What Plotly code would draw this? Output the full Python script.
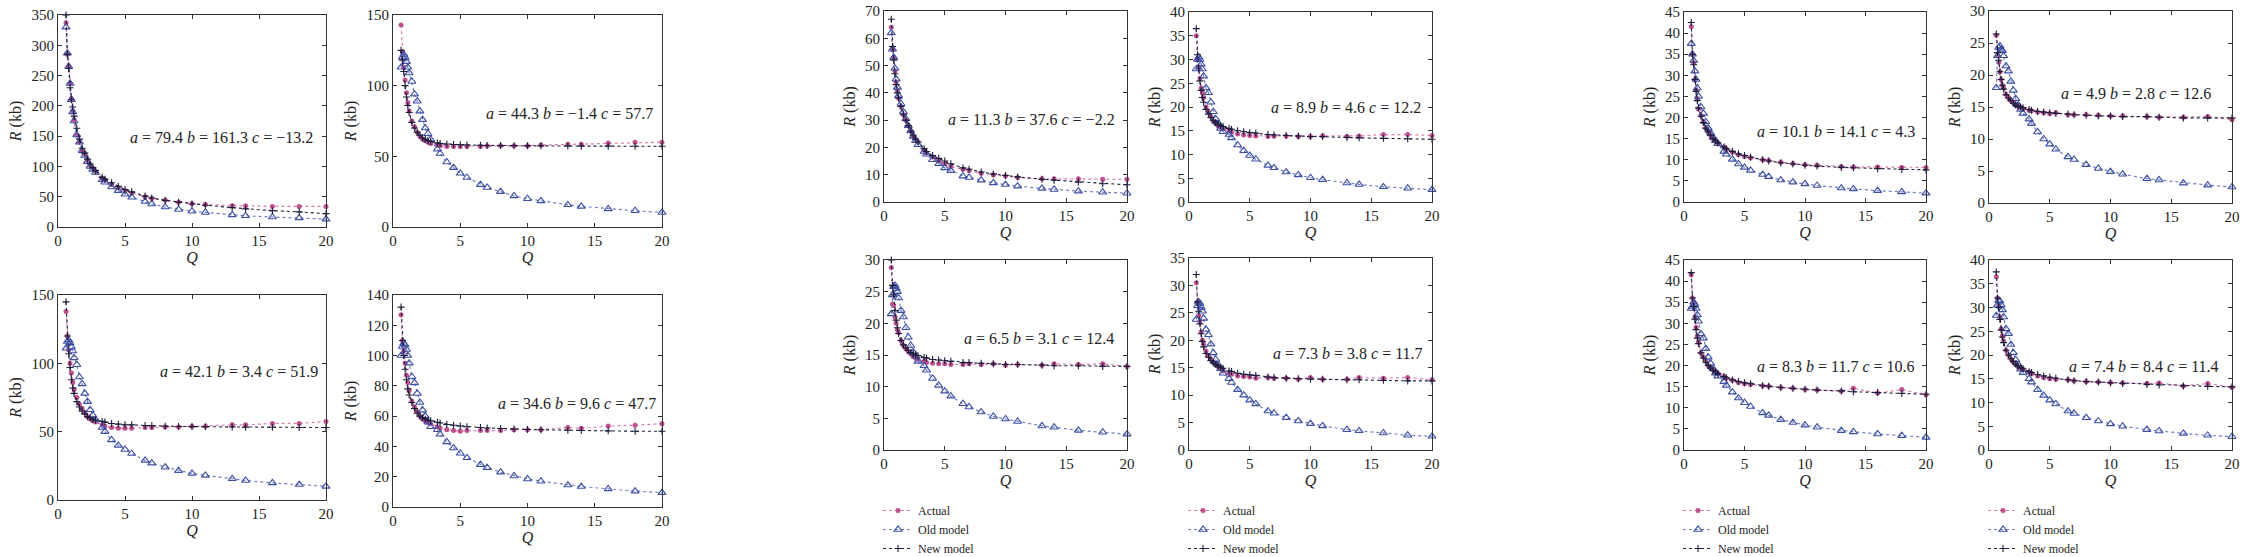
import plotly.graph_objects as go

# ---------------- data ----------------
Q = [0.6, 0.7, 0.8, 0.9, 1.0, 1.1, 1.2, 1.4, 1.6, 1.8, 2.0, 2.2, 2.4, 2.6, 2.8, 3.3,
     3.5, 4.0, 4.5, 5.0, 5.5, 6.5, 7.0, 8.0, 9.0, 10, 11, 13, 14, 16, 18, 20]

actual_1 = [337, 285, 265, 237, 212, 192, 177, 152, 140, 125, 120, 110, 102, 97, 92, 80, 77, 70, 65, 60, 56, 50, 47, 44, 41, 39, 37, 35, 35, 34, 34, 34]
new_1 = [350, 285, 262, 230, 210, 198, 183, 163, 145, 130, 122, 112, 104, 98, 93, 82, 79, 73, 67, 62, 58, 51, 48, 44, 41, 38, 36, 32, 30, 27, 25, 22]
old_1 = [330, 287, 265, 237, 210, 190, 175, 152, 140, 126, 118, 108, 100, 95, 90, 78, 74, 66, 60, 54, 49, 42, 38, 33, 29, 26, 24, 20, 18.5, 16.5, 15, 13]

actual_2 = [143, 124, 113, 104, 95, 88, 82, 75, 71, 67, 64, 62, 61, 60, 59, 58, 57.5, 57, 57, 57, 57, 57, 57.5, 57.5, 57.5, 57.5, 58, 58.5, 58.5, 59.5, 60, 60]
new_2 = [125, 118, 110, 100, 92, 86, 81, 74, 70, 67, 65, 63, 62, 61, 60.5, 59.5, 59, 58.7, 58.4, 58.2, 58, 57.8, 57.7, 57.6, 57.5, 57.4, 57.4, 57.3, 57.2, 57.2, 57.1, 57.1]
old_2 = [113, 120, 122, 120, 117, 113, 109, 103, 94, 89, 82, 76, 70, 66, 62, 55, 52, 46, 42, 38, 35, 30, 28, 25, 22, 20, 18.5, 15.7, 14.6, 12.8, 11.5, 10.3]

actual_3 = [138, 120, 110, 100, 93, 86, 81, 75, 70, 67, 64, 61, 59.5, 58, 57, 55, 54, 53, 52.5, 52.5, 52.5, 53, 53, 53.5, 53.5, 54, 54, 55, 55, 56, 56, 57.5]
new_3 = [145, 120, 107, 97, 88, 82, 78, 72, 68, 65, 63, 61, 60, 59, 58.5, 57.5, 57, 56, 55.5, 55, 55, 54.5, 54.3, 54, 53.8, 53.7, 53.6, 53.4, 53.3, 53.2, 53, 53]
old_3 = [111, 116, 117, 115, 112, 109, 104, 99, 90, 85, 78, 72, 66, 62, 59, 53, 50, 44, 40, 37, 34, 29, 27, 24, 21.5, 19.5, 18, 15.5, 14.3, 12.5, 11.3, 10]

actual_4 = [127, 110, 103, 95, 87, 82, 77, 70, 66, 63, 60, 58, 57, 56, 55, 53, 52, 51, 50.5, 50, 50.5, 50.5, 50.5, 50.5, 51, 51, 51, 52.5, 52, 53.5, 54, 55]
new_4 = [132, 110, 100, 91, 84, 78, 74, 69, 65, 62, 60, 59, 58, 57.5, 57, 56, 55.5, 54.5, 54, 53.5, 53, 52.5, 52.2, 51.8, 51.5, 51.2, 51, 50.7, 50.5, 50.3, 50, 50]
old_4 = [100, 106, 108, 107, 104, 100, 95, 86, 82, 75, 69, 64, 60, 56, 53, 51, 48, 43, 39, 35.5, 32.5, 28, 26, 23, 20.5, 18.5, 17, 14.5, 13.5, 12, 10.5, 9.5]

actual_5 = [64, 56, 53, 48, 44, 41, 38, 35, 32, 30, 28, 26, 24, 23, 22, 19, 18, 16.5, 15, 14, 13, 12, 11.5, 10.5, 10, 9.5, 9, 8.5, 8.5, 8.5, 8.3, 8.3]
new_5 = [67, 57, 52, 47, 43, 40, 38, 35, 32, 30, 28, 26, 24.5, 23, 22, 19.5, 18.5, 17, 16, 15, 14, 12.5, 12, 11, 10.3, 9.7, 9.2, 8.3, 8, 7.3, 6.7, 6.3]
old_5 = [62, 56, 53, 49, 45, 42, 39, 36, 33, 30.5, 28, 26, 24, 22.5, 21, 18.5, 17.5, 15.5, 14, 12.5, 11.5, 9.5, 9, 8, 7, 6.4, 5.8, 5, 4.6, 4, 3.6, 3.2]

actual_6 = [35, 30, 28.5, 26, 24, 23, 22, 20, 19, 18, 17, 16.5, 16, 15.8, 15.5, 15, 14.7, 14.3, 14.1, 14, 13.9, 13.8, 13.9, 13.9, 13.8, 13.8, 13.9, 13.8, 13.9, 14.2, 14.2, 14]
new_6 = [36.5, 31, 28, 25.5, 23.5, 22, 21, 19.5, 18.5, 17.8, 17.2, 16.7, 16.4, 16.1, 15.9, 15.5, 15.3, 15, 14.8, 14.6, 14.5, 14.2, 14.1, 14, 13.9, 13.8, 13.8, 13.6, 13.5, 13.4, 13.3, 13.2]
old_6 = [28, 30, 30.5, 30, 29, 28, 26.5, 24, 23, 21, 19, 17.5, 16.5, 15.5, 14.8, 14.2, 13.5, 12, 10.8, 9.8, 9, 7.7, 7.2, 6.3, 5.7, 5.1, 4.7, 4, 3.7, 3.2, 2.9, 2.6]

actual_7 = [28.8, 23, 22.8, 21, 20, 19, 18.5, 17.3, 16.5, 16, 15.5, 15.2, 14.8, 14.5, 14.3, 14, 13.8, 13.7, 13.6, 13.6, 13.5, 13.5, 13.6, 13.5, 13.6, 13.4, 13.5, 13.4, 13.6, 13.5, 13.6, 13.2]
new_7 = [30, 26, 24.5, 22, 20.5, 19.3, 18.4, 17.3, 16.6, 16.1, 15.7, 15.4, 15.2, 15, 14.9, 14.6, 14.5, 14.3, 14.2, 14.1, 14, 13.8, 13.8, 13.7, 13.6, 13.5, 13.5, 13.4, 13.3, 13.3, 13.2, 13.2]
old_7 = [21.5, 24.5, 25.8, 26, 25.5, 25, 24, 22, 21, 19.3, 17.8, 16.5, 15.5, 14.8, 14, 13.3, 12.6, 11.3, 10.2, 9.3, 8.5, 7.3, 6.8, 6, 5.3, 4.9, 4.5, 3.8, 3.6, 3.1, 2.8, 2.5]

actual_8 = [30.5, 27, 24.5, 23.5, 21.5, 20, 19.3, 18, 17.2, 16.6, 16, 15.6, 15.2, 14.8, 14.4, 14, 13.8, 13.5, 13.4, 13.3, 13.1, 13.2, 13.1, 13.1, 12.9, 13.2, 12.9, 12.9, 13.2, 13.1, 13.2, 12.8]
new_8 = [32, 27, 25.3, 23, 21.2, 19.8, 18.8, 17.6, 16.9, 16.3, 15.9, 15.6, 15.3, 15.1, 14.9, 14.4, 14.3, 14, 13.8, 13.7, 13.6, 13.3, 13.2, 13.1, 13, 12.9, 12.9, 12.8, 12.8, 12.7, 12.6, 12.6]
old_8 = [23.8, 26.3, 27, 26.7, 26, 25.3, 24, 22, 21, 19.3, 17.7, 16.5, 15.5, 14.8, 14, 13, 12.3, 11, 10, 9.1, 8.4, 7.1, 6.7, 5.9, 5.3, 4.8, 4.4, 3.7, 3.5, 3.1, 2.7, 2.5]

actual_9 = [41.5, 35, 33, 29, 26.5, 24.5, 22, 20.5, 19, 17.5, 16.7, 15.8, 15, 14.5, 14, 13, 12.5, 11.8, 11.2, 10.8, 10.5, 10, 9.8, 9.4, 9.1, 8.8, 8.7, 8.4, 8.3, 8.3, 8.2, 8.2]
new_9 = [42.5, 35, 32.5, 29, 26.2, 24, 22.3, 20.3, 18.8, 17.5, 16.6, 15.8, 15.1, 14.5, 14, 13, 12.6, 12, 11.4, 11, 10.6, 10, 9.7, 9.3, 9, 8.7, 8.5, 8.2, 8.1, 7.9, 7.7, 7.6]
old_9 = [37.5, 35, 33.5, 31, 29, 27, 25, 22.5, 21, 19, 17.5, 16.3, 15.3, 14.5, 13.8, 12, 11.3, 10.1, 9, 8.2, 7.5, 6.5, 6, 5.2, 4.7, 4.3, 3.9, 3.3, 3.1, 2.7, 2.4, 2.1]

actual_10 = [26.2, 23, 22, 20.5, 19.3, 18.4, 18, 17, 16.5, 16, 15.7, 15.3, 15.1, 14.9, 14.7, 14.5, 14.4, 14.2, 14.1, 14, 14.1, 13.8, 13.8, 13.8, 13.7, 13.6, 13.6, 13.5, 13.4, 13.4, 13.5, 13]
new_10 = [26.4, 23.5, 22.3, 20.5, 19.3, 18.4, 17.8, 16.9, 16.4, 16, 15.6, 15.3, 15.1, 15, 14.9, 14.6, 14.5, 14.3, 14.2, 14.1, 14, 13.9, 13.8, 13.7, 13.6, 13.6, 13.5, 13.5, 13.4, 13.3, 13.3, 13.3]
old_10 = [18, 23, 24.3, 24.5, 24, 23.8, 23, 21.4, 20.6, 19, 17.6, 16.3, 15.3, 14.6, 14, 13.1, 12.4, 11.1, 10, 9.2, 8.4, 7.2, 6.8, 6, 5.4, 4.9, 4.5, 3.8, 3.6, 3.1, 2.8, 2.5]

actual_11 = [41.5, 36, 35, 31.5, 29, 27, 25.5, 23, 22, 21, 20, 19.5, 19, 18.5, 18.2, 17.4, 17, 16.5, 16, 15.7, 15.5, 15.2, 15.1, 14.8, 14.6, 14.3, 14.2, 13.9, 14.6, 13.5, 14.3, 13.1]
new_11 = [42, 36, 34, 31, 28.5, 26.5, 25.2, 23, 21.8, 20.8, 20, 19.4, 18.9, 18.5, 18.1, 17.4, 17.1, 16.6, 16.2, 15.9, 15.7, 15.2, 15.1, 14.8, 14.6, 14.4, 14.2, 14, 13.8, 13.6, 13.4, 13.2]
old_11 = [33.5, 34, 35, 34.5, 33.5, 32, 30.5, 27.5, 26.5, 24, 22, 20.5, 19.3, 18.2, 17.5, 16.2, 15.3, 13.7, 12.3, 11.2, 10.3, 8.8, 8.2, 7.2, 6.5, 5.9, 5.4, 4.6, 4.3, 3.8, 3.4, 3]

actual_12 = [36.5, 32, 30.5, 28, 25.5, 24, 23, 21, 20, 19.2, 18.5, 18, 17.5, 17.2, 17, 16.4, 16, 15.6, 15.2, 15, 14.9, 14.8, 14.6, 14.4, 14.3, 14.2, 14.1, 14, 14.1, 13.5, 14, 13.2]
new_12 = [37.5, 32, 30, 27.5, 25.3, 23.8, 22.6, 21, 20, 19.2, 18.6, 18.1, 17.7, 17.4, 17.1, 16.5, 16.3, 15.9, 15.6, 15.3, 15.1, 14.8, 14.6, 14.4, 14.3, 14.1, 14, 13.8, 13.7, 13.5, 13.4, 13.3]
old_12 = [28.3, 30.5, 31.5, 31.3, 30.5, 29.5, 28, 25.5, 24.5, 22.2, 20.5, 19, 18, 17, 16.3, 15, 14.3, 12.7, 11.5, 10.5, 9.7, 8.2, 7.7, 6.8, 6.1, 5.5, 5, 4.3, 4, 3.5, 3.1, 2.8]

params_a = [79.4, 44.3, 42.1, 34.6, 11.3, 8.9, 6.5, 7.3, 10.1, 4.9, 8.3, 7.4]
params_b = [161.3, -1.4, 3.4, 9.6, 37.6, 4.6, 3.1, 3.8, 14.1, 2.8, 11.7, 8.4]
params_c = [-13.2, 57.7, 51.9, 47.7, -2.2, 12.2, 12.4, 11.7, 4.3, 12.6, 10.6, 11.4]

y_max = [350, 150, 150, 140, 70, 40, 30, 35, 45, 30, 45, 40]
y_step = [50, 50, 50, 20, 10, 5, 5, 5, 5, 5, 5, 5]
x_ticks = [0, 5, 10, 15, 20]
series_names = ["Actual", "Old model", "New model"]

actual = [actual_1, actual_2, actual_3, actual_4, actual_5, actual_6,
          actual_7, actual_8, actual_9, actual_10, actual_11, actual_12]
old = [old_1, old_2, old_3, old_4, old_5, old_6,
       old_7, old_8, old_9, old_10, old_11, old_12]
new = [new_1, new_2, new_3, new_4, new_5, new_6,
       new_7, new_8, new_9, new_10, new_11, new_12]

# ---------------- layout geometry (pixels) ----------------
W, H = 2245, 557
boxes = [(58, 326, 15, 227), (393, 662, 15, 227), (58, 326, 295, 500), (393, 662, 295, 507),
         (884, 1127, 11, 202), (1189, 1432, 12, 202), (884, 1127, 260, 450), (1189, 1432, 258, 450),
         (1684, 1926, 12, 202), (1989, 2232, 11, 203), (1684, 1926, 260, 450), (1989, 2232, 260, 450)]
ann_pos = [(315, 137), (655, 113), (320, 371), (658, 403), (1117, 119), (1423, 107),
           (1116, 338), (1425, 353), (1917, 132), (2213, 94), (1917, 366), (2221, 366)]
legend_panels = {6: (878, 496), 7: (1183, 496), 10: (1678, 496), 11: (1983, 496)}

FONT = "Liberation Serif, Times New Roman, DejaVu Serif, serif"
C_ACT = "#c0508e"
C_ACT_L = "#d77fb0"
C_OLD = "#3d4fa3"
C_OLD_L = "#6f7fc4"
C_NEW = "#1c1c3c"

fig = go.Figure()
layout = dict(width=W, height=H, margin=dict(l=0, r=0, t=0, b=0, autoexpand=False),
              paper_bgcolor="white", plot_bgcolor="white",
              font=dict(family=FONT, size=15, color="#222"))
annotations = []


def fmt(v):
    return f"{v}".replace("-", "\u2212")


def px_x(v):
    return v / W


def px_y(v):
    return 1 - v / H


for i in range(12):
    k = "" if i == 0 else str(i + 1)
    xa, ya = "x" + k, "y" + k
    leg = None
    show = False
    if i in legend_panels:
        n = list(legend_panels).index(i)
        leg = "legend" if n == 0 else f"legend{n + 1}"
        show = True
    common = dict(x=Q, xaxis=xa, yaxis=ya, mode="lines+markers", showlegend=show,
                  hoverinfo="skip", cliponaxis=False)
    if leg:
        common["legend"] = leg
    fig.add_trace(go.Scatter(y=actual[i], name=series_names[0],
                             line=dict(color=C_ACT_L, width=1.2, dash="dot"),
                             marker=dict(symbol="circle", size=5, color=C_ACT), **common))
    fig.add_trace(go.Scatter(y=old[i], name=series_names[1],
                             line=dict(color=C_OLD_L, width=1.2, dash="dot"),
                             marker=dict(symbol="triangle-up-open", size=7, color=C_OLD,
                                         line=dict(width=1.1, color=C_OLD)), **common))
    fig.add_trace(go.Scatter(y=new[i], name=series_names[2],
                             line=dict(color=C_NEW, width=1.1, dash="dot"),
                             marker=dict(symbol="cross-thin", size=5, color=C_NEW,
                                         line=dict(width=1.1, color=C_NEW)), **common))

    l, r, t, b = boxes[i]
    axis_common = dict(showline=True, linecolor="#333", linewidth=1.2, mirror="ticks",
                       ticks="inside", ticklen=4, tickcolor="#333", showgrid=False,
                       zeroline=False, tickfont=dict(family=FONT, size=15, color="#222"))
    layout["xaxis" + k] = dict(domain=[px_x(l), px_x(r)], anchor=ya, range=[0, 20],
                               tickvals=x_ticks,
                               title=dict(text="<i>Q</i>", standoff=3,
                                          font=dict(family=FONT, size=16, color="#222")),
                               **axis_common)
    layout["yaxis" + k] = dict(domain=[px_y(b), px_y(t)], anchor=xa,
                               range=[0, y_max[i]], dtick=y_step[i], tick0=0,
                               title=dict(text="<i>R</i> (kb)", standoff=5,
                                          font=dict(family=FONT, size=16, color="#222")),
                               **axis_common)
    ax, ay = ann_pos[i]
    annotations.append(dict(
        xref="paper", yref="paper", x=px_x(ax), y=px_y(ay), xanchor="right", yanchor="middle",
        showarrow=False,
        text=f"<i>a</i> = {fmt(params_a[i])} <i>b</i> = {fmt(params_b[i])} <i>c</i> = {fmt(params_c[i])}",
        font=dict(family=FONT, size=16, color="#222")))

for n, (i, (lx, ly)) in enumerate(legend_panels.items()):
    key = "legend" if n == 0 else f"legend{n + 1}"
    layout[key] = dict(x=px_x(lx), y=px_y(ly), xanchor="left", yanchor="top",
                       bgcolor="rgba(0,0,0,0)", font=dict(family=FONT, size=12, color="#222"),
                       itemwidth=30, tracegroupgap=0)

layout["annotations"] = annotations
fig.update_layout(**layout)
fig.write_html("out.html", config={"displayModeBar": False},
               post_script="document.body.style.margin='0';document.body.style.overflow='hidden';")
